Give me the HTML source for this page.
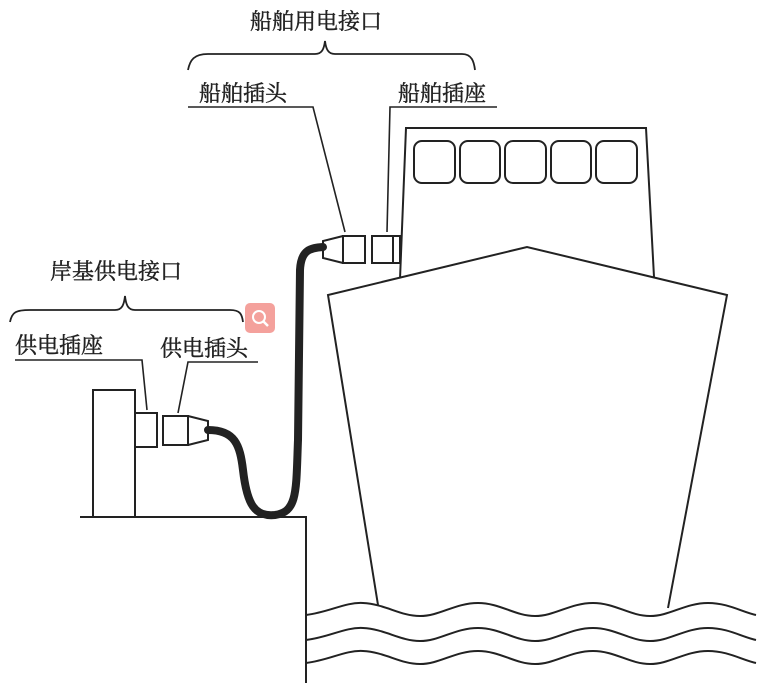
<!DOCTYPE html>
<html><head><meta charset="utf-8"><style>
html,body{margin:0;padding:0;background:#fff;}
svg{display:block;}
text{font-family:"Liberation Sans","Noto Serif CJK SC","Noto Sans CJK SC",serif;fill:#222;font-size:22px;stroke:#222;stroke-width:0.4;}
</style></head><body>
<svg width="782" height="683" viewBox="0 0 782 683" xmlns="http://www.w3.org/2000/svg">
<g fill="none" stroke="#222" stroke-width="2">
<path d="M80 517 H306 V683"/>
<rect x="93" y="390" width="42" height="127"/>
<rect x="135" y="413" width="22" height="34"/>
<rect x="163" y="416" width="25" height="29"/>
<path d="M188 416 L208 421 V440 L188 445"/>
<path d="M208 430 C235 430 240 445 243 470 C247 505 255 517 275 515 C298 512 296 490 298 440 L300 270 C301 250 310 248 323 247" stroke-width="8" stroke-linecap="round"/>
<path d="M343 236 L323 241 V258 L343 263"/>
<rect x="343" y="236" width="22" height="27"/>
<rect x="372" y="236" width="28" height="27"/>
<line x1="393" y1="236" x2="393" y2="263"/>
<path d="M400 279 L406 128 H646 L654 277"/>
<rect x="414" y="141" width="41" height="42" rx="8"/>
<rect x="460" y="141" width="40" height="42" rx="8"/>
<rect x="505" y="141" width="41" height="42" rx="8"/>
<rect x="551" y="141" width="40" height="42" rx="8"/>
<rect x="596" y="141" width="41" height="42" rx="8"/>
<path d="M378 605 L328 295 L527 247 L727 295 L668 608" fill="#fff"/>
<path d="M306 615 C330 612 345 602 363 603 C385 604 400 616 420 616 C440 616 455 603 478 603 C500 603 515 616 535 616 C555 616 570 603 593 603 C615 603 630 616 650 616 C670 616 685 603 708 603 C728 603 742 612 756 615" fill="#fff"/>
<path d="M306 640 C330 637 345 627 363 628 C385 629 400 641 420 641 C440 641 455 628 478 628 C500 628 515 641 535 641 C555 641 570 628 593 628 C615 628 630 641 650 641 C670 641 685 628 708 628 C728 628 742 637 756 640"/>
<path d="M306 663 C330 660 345 650 363 651 C385 652 400 664 420 664 C440 664 455 651 478 651 C500 651 515 664 535 664 C555 664 570 651 593 651 C615 651 630 664 650 664 C670 664 685 651 708 651 C728 651 742 660 756 663"/>
<path d="M10 322 C12 312 16 310 30 310 H115 C122 310 124 305 125 296 C126 305 128 310 135 310 H230 C240 310 242 314 243 322" stroke-width="1.8"/>
<path d="M188 70 C190 60 194 54 208 54 H315 C322 54 324 49 325 41 C326 49 328 54 335 54 H462 C472 54 474 62 475 70" stroke-width="1.8"/>
<path d="M15 360 H142 L147 410" stroke-width="1.6"/>
<path d="M258 362 H188 L178 413" stroke-width="1.6"/>
<path d="M188 107 H313 L345 232" stroke-width="1.6"/>
<path d="M497 107 H390 L387 232" stroke-width="1.6"/>
</g>
<text x="50" y="279">岸基供电接口</text>
<text x="15" y="353">供电插座</text>
<text x="160" y="356">供电插头</text>
<text x="250" y="29">船舶用电接口</text>
<text x="199" y="101">船舶插头</text>
<text x="398" y="101">船舶插座</text>
<rect x="245" y="303" width="30" height="30" rx="5" fill="#f4a19c"/>
<circle cx="259" cy="317" r="6" fill="none" stroke="#fff" stroke-width="2"/>
<line x1="263.5" y1="321.5" x2="268" y2="326" stroke="#fff" stroke-width="2.5"/>
</svg>
</body></html>
